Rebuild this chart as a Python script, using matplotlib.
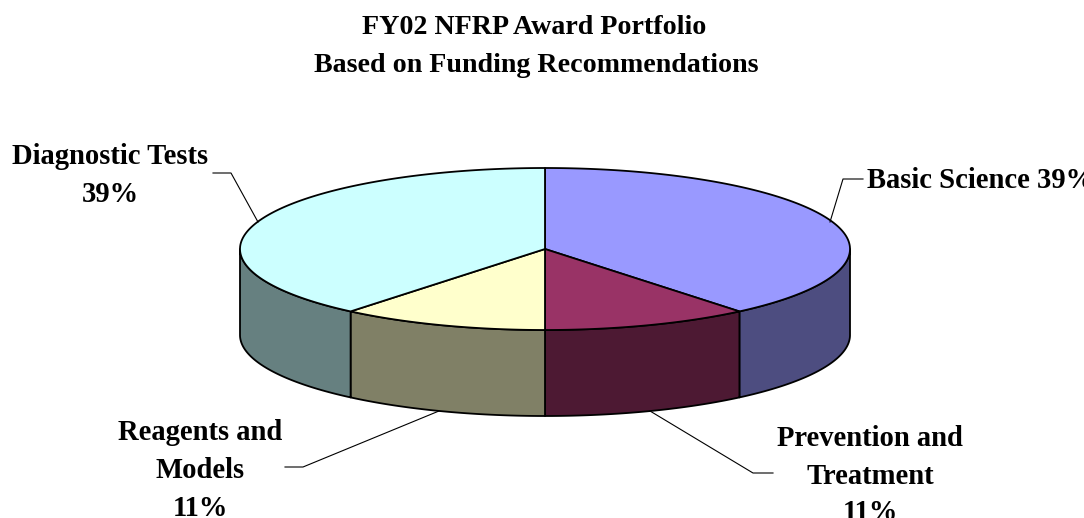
import numpy as np
import matplotlib
matplotlib.use("Agg")
import matplotlib.pyplot as plt

title_lines = ["FY02 NFRP Award Portfolio", "Based on Funding Recommendations"]
categories = ["Basic Science", "Prevention and\nTreatment", "Reagents and\nModels", "Diagnostic Tests"]
values = [39, 11, 11, 39]
top_colors = ["#9999FF", "#993366", "#FFFFCC", "#CCFFFF"]
side_colors = ["#4D4D80", "#4D1933", "#808066", "#668080"]

W, H = 1084, 518
plt.rcParams["font.family"] = ["Liberation Serif", "DejaVu Serif"]
fig = plt.figure(figsize=(W / 100, H / 100), dpi=100, facecolor="white")
ax = fig.add_axes([0, 0, 1, 1])
ax.set_xlim(0, W)
ax.set_ylim(H, 0)
ax.axis("off")

cx, cy, rx, ry, depth = 545, 249, 305, 81, 86
EC = "black"
LW = 1.3

def pt(theta):
    return cx + rx * np.sin(theta), cy - ry * np.cos(theta)

fractions = np.array(values) / sum(values)
edges = np.concatenate([[0], np.cumsum(fractions)]) * 2 * np.pi

# side walls (only the front half is visible)
for i in range(len(values)):
    a, b = max(edges[i], np.pi / 2), min(edges[i + 1], 3 * np.pi / 2)
    if b <= a:
        continue
    t = np.linspace(a, b, 150)
    x, y = pt(t)
    xs = np.r_[x, x[::-1]]
    ys = np.r_[y, y[::-1] + depth]
    ax.fill(xs, ys, facecolor=side_colors[i], edgecolor=EC, linewidth=LW, joinstyle="round", zorder=2)

# top faces
for i in range(len(values)):
    t = np.linspace(edges[i], edges[i + 1], 200)
    x, y = pt(t)
    ax.fill(np.r_[cx, x], np.r_[cy, y], facecolor=top_colors[i], edgecolor=EC, linewidth=LW, joinstyle="round", zorder=3)

# title
fs = 20.2
tw = dict(ha="center", va="center_baseline", fontweight="bold")
ax.text(534, 24, title_lines[0], fontsize=fs, **tw)
ax.text(536.5, 62, title_lines[1], fontsize=fs, **tw)

# labels and leader lines
pct = [f"{v}%" for v in values]
lfs = 20.6
lw = dict(va="center_baseline", fontsize=lfs, fontweight="bold")
LL = 0.8
ax.text(867, 178, f"{categories[0]} {pct[0]}", ha="left", **lw)
ax.plot([830, 843, 863], [222, 179, 179], color=EC, lw=LL, zorder=4)

for yy, s in zip([435, 473, 510], categories[1].split("\n") + [pct[1]]):
    ax.text(870, yy, s, ha="center", **lw)
ax.plot([650, 753, 773], [411, 473, 473], color=EC, lw=LL, zorder=4)

for yy, s in zip([430, 468, 505], categories[2].split("\n") + [pct[2]]):
    ax.text(200, yy, s, ha="center", **lw)
ax.plot([439, 303, 285], [411, 467, 467], color=EC, lw=LL, zorder=4)

for yy, s in zip([154, 192], [categories[3], pct[3]]):
    ax.text(110, yy, s, ha="center", **lw)
ax.plot([258, 231, 213], [222, 173, 173], color=EC, lw=LL, zorder=4)

fig.savefig("out.png", dpi=100, facecolor="white")
